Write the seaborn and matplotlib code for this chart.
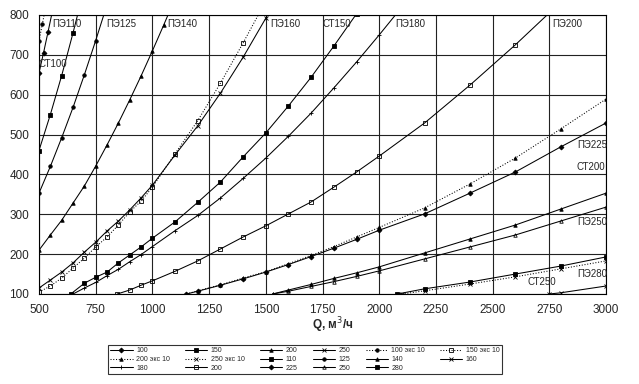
import matplotlib
matplotlib.use('Agg')
import matplotlib.pyplot as plt
import seaborn as sns

# расход Q, м3/ч и потери давления по каждой кривой
q_100 = [500, 520, 540, 560]
dp_100 = [655, 705, 758, 812]
q_100e = [500, 515, 530]
dp_100e = [735, 778, 822]

q_110 = [500, 550, 600, 650, 700]
dp_110 = [460, 550, 648, 755, 868]
q_125 = [500, 550, 600, 650, 700, 750, 800]
dp_125 = [353, 420, 492, 568, 650, 736, 826]
q_140 = [500, 550, 600, 650, 700, 750, 800, 850, 900, 950, 1000, 1050, 1100]
dp_140 = [210, 248, 285, 328, 371, 421, 474, 529, 587, 647, 710, 775, 842]
q_160 = [500, 550, 600, 650, 700, 750, 800, 850, 900, 950, 1000, 1100, 1200, 1300, 1400, 1500, 1550]
dp_160 = [115, 135, 155, 178, 205, 230, 258, 283, 311, 341, 373, 449, 522, 604, 694, 792, 845]
q_150e = [500, 550, 600, 650, 700, 750, 800, 850, 900, 950, 1000, 1100, 1200, 1300, 1400, 1500]
dp_150e = [105, 120, 140, 165, 190, 218, 243, 273, 306, 333, 368, 452, 535, 629, 730, 835]
q_150 = [640, 700, 750, 800, 850, 900, 950, 1000, 1100, 1200, 1300, 1400, 1500, 1600, 1700, 1800, 1900]
dp_150 = [100, 127, 142, 155, 178, 198, 218, 240, 281, 330, 381, 444, 504, 572, 644, 722, 803]
q_180 = [650, 700, 750, 800, 850, 900, 950, 1000, 1100, 1200, 1300, 1400, 1500, 1600, 1700, 1800, 1900, 2000, 2100]
dp_180 = [100, 115, 129, 146, 162, 181, 199, 219, 259, 297, 341, 390, 441, 496, 554, 617, 682, 750, 820]
q_200pe = [845, 900, 950, 1000, 1100, 1200, 1300, 1400, 1500, 1600, 1700, 1800, 1900, 2000, 2200, 2400, 2600, 2800]
dp_200pe = [100, 110, 122, 133, 157, 183, 213, 243, 271, 301, 331, 368, 406, 446, 529, 624, 725, 832]
q_225 = [1150, 1200, 1300, 1400, 1500, 1600, 1700, 1800, 1900, 2000, 2200, 2400, 2600, 2800, 3000]
dp_225 = [100, 107, 122, 138, 155, 174, 194, 215, 237, 260, 301, 353, 406, 469, 529]
q_200e = [1150, 1200, 1300, 1400, 1500, 1600, 1700, 1800, 1900, 2000, 2200, 2400, 2600, 2800, 3000]
dp_200e = [100, 108, 123, 140, 156, 176, 197, 219, 243, 267, 316, 376, 441, 514, 589]
q_200 = [1530, 1600, 1700, 1800, 1900, 2000, 2200, 2400, 2600, 2800, 3000]
dp_200 = [100, 110, 124, 139, 153, 168, 203, 238, 273, 313, 353]
q_250pe = [1530, 1600, 1700, 1800, 1900, 2000, 2200, 2400, 2600, 2800, 3000]
dp_250pe = [100, 107, 119, 131, 144, 158, 188, 218, 248, 283, 318]
q_280 = [2080, 2200, 2400, 2600, 2800, 3000]
dp_280 = [100, 113, 130, 150, 170, 193]
q_250e = [2100, 2200, 2400, 2600, 2800, 3000]
dp_250e = [100, 108, 125, 143, 163, 183]
q_250 = [2750, 2800, 3000]
dp_250 = [100, 103, 120]

# подписи кривых на поле графика: (текст, Q, dp)
curve_labels = [('ПЭ110', 557, 777), ('ПЭ125', 795, 777), ('ПЭ140', 1064, 777),
                ('ПЭ160', 1518, 777), ('СТ150', 1752, 777), ('ПЭ180', 2070, 777),
                ('ПЭ200', 2762, 777), ('СТ100', 497, 677), ('ПЭ225', 2872, 474),
                ('СТ200', 2872, 419), ('ПЭ250', 2872, 281), ('ПЭ280', 2872, 150),
                ('СТ250', 2652, 130)]

sns.set_style('white')
plt.rcParams['font.family'] = ['Liberation Sans', 'DejaVu Sans']

# (легенда, Q, dp, линия, маркер, заливка маркера)
series = [
    ('100', q_100, dp_100, '-', 'D', 'k'),
    ('150', q_150, dp_150, '-', 's', 'k'),
    ('200', q_200, dp_200, '-', '^', 'k'),
    ('250', q_250, dp_250, '-', 'x', 'k'),
    ('100 экс 10', q_100e, dp_100e, ':', 'o', 'k'),
    ('150 экс 10', q_150e, dp_150e, ':', 's', 'none'),
    ('200 экс 10', q_200e, dp_200e, ':', '^', 'k'),
    ('250 экс 10', q_250e, dp_250e, ':', 'x', 'k'),
    ('110', q_110, dp_110, '-', 's', 'k'),
    ('125', q_125, dp_125, '-', 'o', 'k'),
    ('140', q_140, dp_140, '-', '^', 'k'),
    ('160', q_160, dp_160, '-', 'x', 'k'),
    ('180', q_180, dp_180, '-', '+', 'k'),
    ('200', q_200pe, dp_200pe, '-', 's', 'none'),
    ('225', q_225, dp_225, '-', 'D', 'k'),
    ('250', q_250pe, dp_250pe, '-', '^', 'none'),
    ('280', q_280, dp_280, '-', 's', 'k'),
]

fig = plt.figure(figsize=(6.39, 3.84), dpi=100)
ax = fig.add_axes([39/639, 1 - 294/384, 567/639, 279/384])

handles = []
for lab, q, dp, ls, mk, mfc in series:
    sns.lineplot(x=q, y=dp, ax=ax, color='black', linestyle=ls, linewidth=0.75,
                 marker=mk, markersize=2.5, markerfacecolor=mfc,
                 markeredgecolor='black', markeredgewidth=0.6, legend=False)
    line = ax.lines[-1]
    line.set_label(lab)
    handles.append(line)

ax.set_xlim(500, 3000)
ax.set_ylim(100, 800)
ax.set_xticks(range(500, 3001, 250))
ax.set_yticks(range(100, 801, 100))
ax.grid(True, color='#222222', linewidth=0.8)
ax.tick_params(labelsize=8.5, length=3, pad=4, direction='out', color='black')
for s in ax.spines.values():
    s.set_color('black')
    s.set_linewidth(0.8)
ax.set_xlabel('')
ax.set_ylabel('')

for txt, qx, dy in curve_labels:
    ax.text(qx, dy, txt, fontsize=7, ha='left', va='center')

fig.text(333/639, 1 - 325/384, 'Q, м$^3$/ч', fontsize=8.5, fontweight='bold',
         ha='center', va='center')

# легенда заполняется по строкам, matplotlib - по столбцам
order = [0, 6, 12, 1, 7, 13, 2, 8, 14, 3, 9, 15, 4, 10, 16, 5, 11]
leg = fig.legend([handles[i] for i in order], [series[i][0] for i in order],
                 ncol=6, loc='center', bbox_to_anchor=(305/639, 1 - 359.5/384),
                 fontsize=5, frameon=True, fancybox=False, edgecolor='black',
                 handlelength=3.2, columnspacing=2.2, labelspacing=0.25,
                 borderpad=0.35, handletextpad=0.5)
leg.get_frame().set_linewidth(0.8)

fig.savefig('out.png', dpi=100)
